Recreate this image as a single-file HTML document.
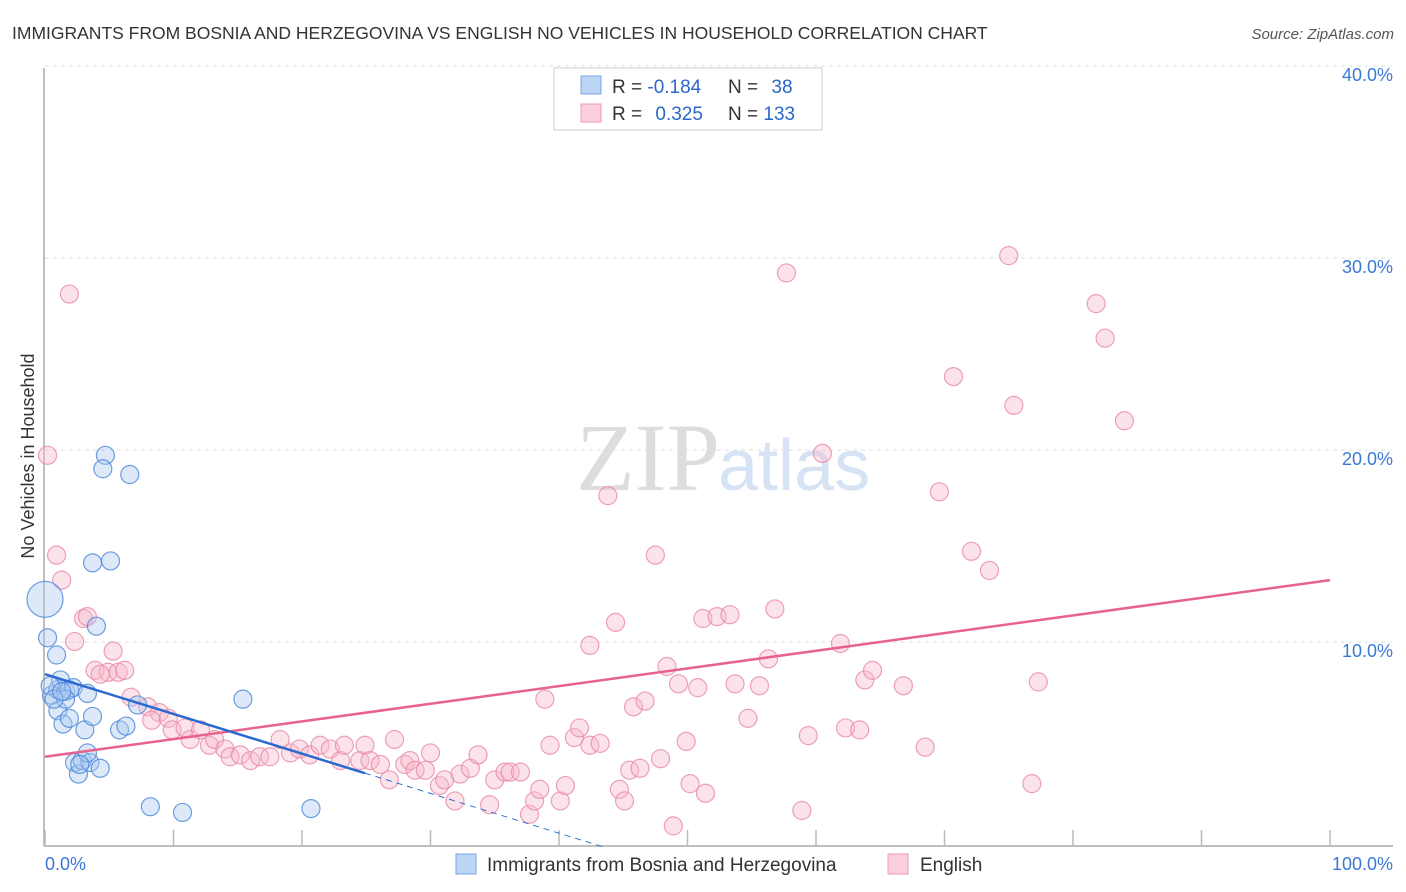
<!DOCTYPE html>
<html><head><meta charset="utf-8"><style>
body{margin:0;background:#fff;font-family:"Liberation Sans",sans-serif;}
svg{display:block}
</style></head><body>
<svg width="1406" height="892" xmlns="http://www.w3.org/2000/svg">
<text x="12" y="39" font-size="17.5" fill="#333">IMMIGRANTS FROM BOSNIA AND HERZEGOVINA VS ENGLISH NO VEHICLES IN HOUSEHOLD CORRELATION CHART</text>
<text x="1394" y="39" font-size="15" fill="#555" font-style="italic" text-anchor="end">Source: ZipAtlas.com</text>
<text x="0" y="0" transform="translate(34,456) rotate(-90)" font-size="18" fill="#333" text-anchor="middle">No Vehicles in Household</text>
<g id="grid"></g>
<text x="720" y="490" font-size="96" font-family="Liberation Serif" fill="#ddd" text-anchor="end">ZIP</text>
<text x="718" y="490" font-size="72" fill="#d5e3f5">atlas</text>
<g id="marks"></g>
<g>
<rect x="554" y="68" width="268" height="62" fill="#fff" stroke="#ccc"/>
<rect x="581" y="76" width="20" height="18" fill="#bcd5f5" stroke="#7aa6e6"/>
<rect x="581" y="104" width="20" height="18" fill="#fbd0dc" stroke="#ef99b3"/>
<text x="612" y="93" font-size="19" fill="#333">R = <tspan fill="#2a66cc">-0.184</tspan></text>
<text x="728" y="93" font-size="19" fill="#333">N = <tspan fill="#2a66cc" dx="8">38</tspan></text>
<text x="612" y="120" font-size="19" fill="#333">R = <tspan fill="#2a66cc" dx="8">0.325</tspan></text>
<text x="728" y="120" font-size="19" fill="#333">N = <tspan fill="#2a66cc">133</tspan></text>
</g>
<g>
<rect x="456" y="854" width="20" height="20" fill="#bcd5f5" stroke="#7aa6e6"/>
<text x="487" y="871" font-size="19" fill="#333">Immigrants from Bosnia and Herzegovina</text>
<rect x="888" y="854" width="20" height="20" fill="#fbd0dc" stroke="#ef99b3"/>
<text x="920" y="871" font-size="19" fill="#333">English</text>
</g>
<text x="45" y="870" font-size="18" fill="#3a78d8">0.0%</text>
<text x="1393" y="870" font-size="18" fill="#3a78d8" text-anchor="end">100.0%</text>
</svg>
<script>
const yTicks=[10,20,30,40];
const yTickLabels=["10.0%","20.0%","30.0%","40.0%"];
const xTicks=[0,10,20,30,40,50,60,70,80,90,100];
const blueX=[0,0.2,0.9,0.5,1.0,1.2,1.6,1.9,2.2,3.3,0.4,1.0,1.4,1.9,3.1,3.7,2.3,2.6,2.9,3.5,4.3,4.7,4.5,6.6,3.7,5.1,4.0,7.2,15.4,5.8,6.3,8.2,10.7,20.7,3.3,2.7,1.6,0.7,1.3];
const blueY=[12.9,10.9,10.0,7.9,8.2,8.7,8.1,8.2,8.3,8.0,8.4,7.1,6.4,6.7,6.1,6.8,4.4,3.8,4.5,4.4,4.1,20.4,19.7,19.4,14.8,14.9,11.5,7.4,7.7,6.1,6.3,2.1,1.8,2.0,4.9,4.3,7.7,7.7,8.1];
const pinkX=[0.2,1.9,0.9,1.3,3.0,3.3,2.3,5.3,3.9,4.9,5.7,4.3,6.2,6.7,8.0,8.9,8.3,9.6,9.9,10.9,11.3,12.1,12.8,13.2,14.0,14.4,15.2,16.0,16.7,17.5,18.3,19.1,19.8,20.6,21.4,22.2,23.0,23.3,24.5,24.9,25.3,26.1,26.8,27.2,28.0,28.4,28.8,29.6,30.0,30.7,31.1,31.9,32.3,33.1,33.7,34.6,35.0,35.8,36.2,37.0,37.7,38.1,38.5,38.9,39.3,40.1,40.5,41.2,41.6,42.4,43.2,42.4,43.8,44.4,44.7,45.1,45.5,45.8,46.3,46.7,47.5,47.9,48.4,48.9,49.3,49.9,50.2,50.8,51.4,51.2,52.3,53.3,53.7,54.7,55.6,56.3,56.8,57.7,58.9,59.4,60.5,61.9,62.3,63.4,63.8,64.4,66.8,68.5,69.6,70.7,72.1,73.5,75.0,75.4,76.8,77.3,81.8,82.5,84.0];
const pinkY=[20.4,28.8,15.2,13.9,11.9,12.0,10.7,10.2,9.2,9.1,9.1,9.0,9.2,7.8,7.3,7.0,6.6,6.7,6.1,6.2,5.6,6.1,5.3,5.6,5.1,4.7,4.8,4.5,4.7,4.7,5.6,4.9,5.1,4.8,5.3,5.1,4.5,5.3,4.5,5.3,4.5,4.3,3.5,5.6,4.3,4.5,4.0,4.0,4.9,3.2,3.5,2.4,3.8,4.1,4.8,2.2,3.5,3.9,3.9,3.9,1.7,2.4,3.0,7.7,5.3,2.4,3.2,5.7,6.2,5.3,5.4,10.5,18.3,11.7,3.0,2.4,4.0,7.3,4.1,7.6,15.2,4.6,9.4,1.1,8.5,5.5,3.3,8.3,2.8,11.9,12.0,12.1,8.5,6.7,8.4,9.8,12.4,29.9,1.9,5.8,20.5,10.6,6.2,6.1,8.7,9.2,8.4,5.2,18.5,24.5,15.4,14.4,30.8,23.0,3.3,8.6,28.3,26.5,22.2];
const blueTrend=[9.0,-0.207];
const pinkTrend=[4.7,0.092];
const NS="http://www.w3.org/2000/svg";
const X=v=>45+v*12.85, Y=v=>847-v*19.2;
const grid=document.getElementById('grid'), marks=document.getElementById('marks');
function mk(tag,attrs,parent){const e=document.createElementNS(NS,tag);for(const k in attrs)e.setAttribute(k,attrs[k]);parent.appendChild(e);return e;}
let l=mk('line',{x1:44,y1:68,x2:44,y2:846,stroke:'#aaa','stroke-width':1.5},grid);


l=mk('line',{x1:44,y1:846,x2:1393,y2:846,stroke:'#aaa','stroke-width':1.5},grid);


yTicks.forEach((t,i)=>{
 const g=mk('line',{x1:45,x2:1393,y1:Y(t)-13,y2:Y(t)-13,stroke:'#ddd','stroke-dasharray':'4,4'},grid);
 
 
 const tx=mk('text',{x:1393,y:Y(t)+2,'font-size':18,fill:'#3a78d8','text-anchor':'end'},grid);
 tx.textContent=yTickLabels[i];
 
 
});
xTicks.forEach(t=>{
 const k=mk('line',{x1:X(t),x2:X(t),y1:830,y2:846,stroke:'#bbb','stroke-width':1.5},grid);
 
 
});
function dots(xs,ys,fill,stroke,name){
 xs.forEach((v,i)=>{
  const r=(name==='blue-point'&&i===0)?18:9;
  const c=mk('circle',{cx:X(v),cy:Y(ys[i]),r:r,fill:fill,'fill-opacity':0.4,stroke:stroke,'stroke-width':1.2,'stroke-opacity':0.8},marks);
  
  
 });
}
dots(pinkX,pinkY,'#f8b8cb','#e98aa8','pink-point');
dots(blueX,blueY,'#a9c8f0','#4a86d8','blue-point');
let t=mk('line',{x1:X(0),y1:Y(pinkTrend[0]),x2:X(100),y2:Y(pinkTrend[0]+pinkTrend[1]*100),stroke:'#e8628e','stroke-width':2.5},marks);


t=mk('line',{x1:X(0),y1:Y(blueTrend[0]),x2:X(24.9),y2:Y(blueTrend[0]+blueTrend[1]*24.9),stroke:'#2a6ad0','stroke-width':2.5},marks);


t=mk('line',{x1:X(24.9),y1:Y(blueTrend[0]+blueTrend[1]*24.9),x2:X(43.5),y2:Y(blueTrend[0]+blueTrend[1]*43.5),stroke:'#2a6ad0','stroke-width':1,'stroke-dasharray':'6,5'},marks);


</script>
</body></html>
